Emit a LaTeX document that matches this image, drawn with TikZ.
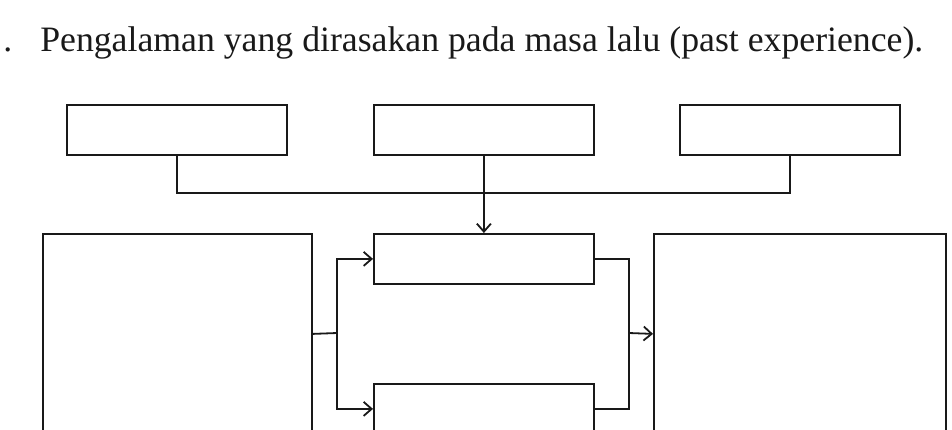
\documentclass[tikz,border=0pt]{standalone}
\usepackage{fontspec}
\setmainfont{Liberation Serif}
\usetikzlibrary{arrows.meta}
\begin{document}
\begin{tikzpicture}[x=0.75pt,y=-0.75pt,
  box/.style={draw=black!90,line width=1.35pt,inner sep=0pt,anchor=north west},
  conn/.style={draw=black!90,line width=1.35pt},
  arr/.style={conn,-{Straight Barb[length=6pt,width=10.5pt,line width=1.35pt]}},
  title/.style={anchor=base west,inner sep=0pt,text=black!90,font=\fontsize{26.8}{30}\selectfont}]
\useasboundingbox (0,0) rectangle (952,429);
\clip (0,0) rectangle (952,429);
\node[title] (dot) at (3,51) {.};
\node[title] (ttl) at (40,51) {Pengalaman yang dirasakan pada masa lalu (past experience).};
% top row
\node[box,minimum width=165pt,minimum height=37.5pt] (t1) at (66,104) {};
\node[box,minimum width=165pt,minimum height=37.5pt] (t2) at (373,104) {};
\node[box,minimum width=165pt,minimum height=37.5pt] (t3) at (679,104) {};
% middle column
\node[box,minimum width=165pt,minimum height=37.5pt] (m1) at (373,233) {};
\node[box,minimum width=165pt,minimum height=37.5pt] (m2) at (373,383) {};
% big boxes
\node[box,minimum width=201.75pt,minimum height=150pt] (L) at (42,233) {};
\node[box,minimum width=219pt,minimum height=150pt] (R) at (653,233) {};
% connectors
\coordinate (bus) at (483,193);
\draw[conn] (t1.south) |- (bus) -| (t3.south);
\draw[arr] (t2.south) -- (m1.north);
\coordinate (sL) at (337,333);
\coordinate (sR) at (629,333);
\draw[conn] (L.east) -- (sL);
\draw[arr] (sL) |- (m1.west);
\draw[arr] (sL) |- (m2.west);
\draw[conn] (m1.east) -| (sR);
\draw[conn] (m2.east) -| (sR);
\draw[arr] (sR) -- (R.west);
\end{tikzpicture}
\end{document}
